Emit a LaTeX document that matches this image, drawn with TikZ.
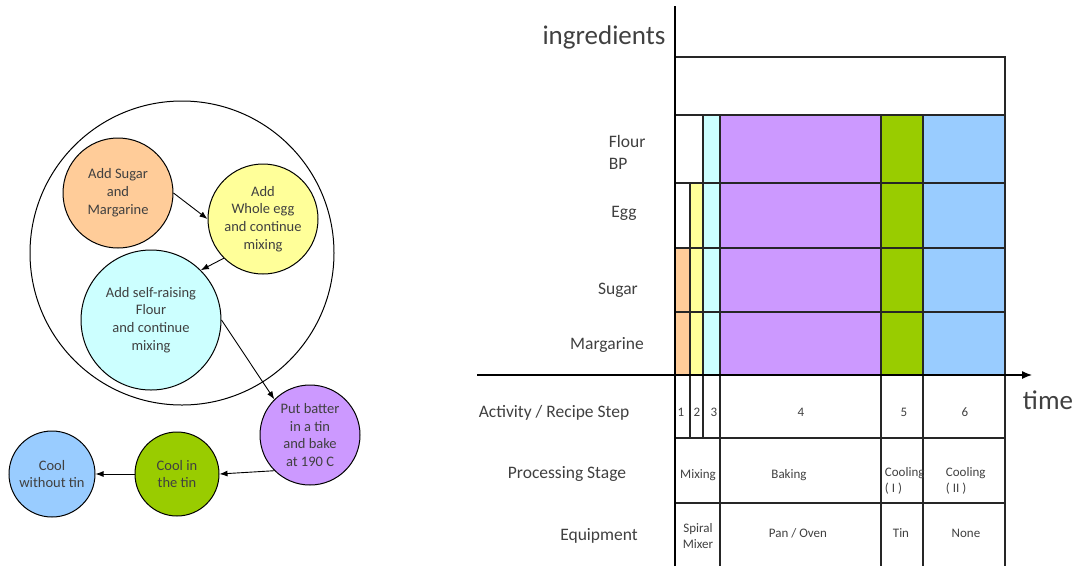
\documentclass[tikz,border=0pt]{standalone}
\usepackage{fontspec}
\setmainfont{Carlito}
\usetikzlibrary{arrows, arrows.meta}
\usetikzlibrary{calc}

\definecolor{txt}{RGB}{64,64,64}
\definecolor{sugarfill}{RGB}{255,204,153}
\definecolor{eggfill}{RGB}{255,255,153}
\definecolor{flourfill}{RGB}{204,255,255}
\definecolor{bakefill}{RGB}{204,153,255}
\definecolor{tinfill}{RGB}{153,204,0}
\definecolor{coolfill}{RGB}{153,204,255}

\begin{document}
\begin{tikzpicture}[x=1pt, y=-1pt, line width=1.2pt,
    stage/.style={circle, draw, line width=1pt, inner sep=0pt, align=center, text=txt,
      font=\fontsize{14.5}{17.8}\selectfont},
    flow/.style={-{Latex[length=8pt, width=6pt]}, line width=0.9pt},
    rowlabel/.style={text=txt, font=\fontsize{17.5}{22}\selectfont},
    cell/.style={text=txt, align=center, font=\fontsize{13}{16}\selectfont},
    axislabel/.style={text=txt, font=\fontsize{27}{32}\selectfont}]

  \useasboundingbox (0,0) rectangle (1076,566);

  % recipe as a flow of steps
  \node[circle, draw, line width=1pt, inner sep=0pt, minimum size=304pt] (mixing) at (182,253) {};
  \node[stage, fill=sugarfill, minimum size=110pt] (s1) at (118,193) {Add Sugar\\and\\Margarine};
  \node[stage, fill=eggfill, minimum size=110pt] (s2) at (263,219) {Add\\Whole egg\\and continue\\mixing};
  \node[stage, fill=flourfill, minimum size=140pt] (s3) at (151,320) {Add self-raising\\Flour\\and continue\\mixing};
  \node[stage, fill=bakefill, minimum size=100pt] (s4) at (310,435) {Put batter\\in a tin\\and bake\\at 190 C};
  \node[stage, fill=tinfill, minimum size=84pt] (s5) at (177,474) {Cool in\\the tin};
  \node[stage, fill=coolfill, minimum size=86pt] (s6) at (52,474) {Cool\\without tin};

  \draw[flow] (s1.east) -- (s2.west);
  \draw[flow] (s2.south west) -- (s3.north east);
  \draw[flow] (s3.east) -- (s4.north west);
  \draw[flow] (s4.south west) -- (s5.east);
  \draw[flow] (s5.west) -- (s6.east);

  % ingredients over time
  \fill[flourfill] (703,115) rectangle (720,375);
  \fill[bakefill] (720,115) rectangle (881,375);
  \fill[tinfill] (881,115) rectangle (923,375);
  \fill[coolfill] (923,115) rectangle (1005,375);
  \fill[eggfill] (690,183) rectangle (703,375);
  \fill[sugarfill] (675,248) rectangle (690,375);

  \draw[black!85] (675,57) rectangle (1005,115);
  \foreach \y in {183,248,312,438,503}
    \draw[black!85] (675,\y) -- (1005,\y);
  \foreach \x in {720,881,923,1005}
    \draw[black!85] (\x,115) -- (\x,566);
  \draw[black!85] (703,115) -- (703,438);
  \draw[black!85] (690,183) -- (690,438);

  \coordinate (ybot) at (675,566);
  \coordinate (ytop) at (675,6);
  \coordinate (tstart) at (477,375);
  \coordinate (tend) at (1032,375);
  \draw (ybot) -- (ytop);
  \draw[-{Latex[length=10pt, width=8pt]}] (tstart) -- (tend);

  \node[axislabel] (ingredients) at (604,37) {ingredients};
  \node[axislabel] (time) at (1048,400) {time};

  \node[rowlabel, align=left, anchor=west] (flour) at (605,152) {Flour\\BP};
  \node[rowlabel] (egg) at (624,213) {Egg};
  \node[rowlabel] (sugar) at (618,290) {Sugar};
  \node[rowlabel] (margarine) at (607,345) {Margarine};
  \node[rowlabel] (activity) at (554,413) {Activity / Recipe Step};
  \node[rowlabel] (processing) at (567,474) {Processing Stage};
  \node[rowlabel] (equipment) at (599,536) {Equipment};

  % table below the time axis
  \node[cell] (n1) at (681,412) {1};
  \node[cell] (n2) at (697,412) {2};
  \node[cell] (n3) at (714,412) {3};
  \node[cell] (n4) at (801,412) {4};
  \node[cell] (n5) at (904,412) {5};
  \node[cell] (n6) at (965,412) {6};

  \node[cell] (mix) at (698,475) {Mixing};
  \node[cell] (bake) at (789,475) {Baking};
  \node[cell, align=left, anchor=west] (cool1) at (881,481) {Cooling\\( I )};
  \node[cell, align=left, anchor=west] (cool2) at (942,481) {Cooling\\( II )};

  \node[cell] (mixer) at (698,536) {Spiral\\Mixer};
  \node[cell] (oven) at (798,533) {Pan / Oven};
  \node[cell] (tin) at (901,533) {Tin};
  \node[cell] (none) at (966,533) {None};
\end{tikzpicture}
\end{document}
